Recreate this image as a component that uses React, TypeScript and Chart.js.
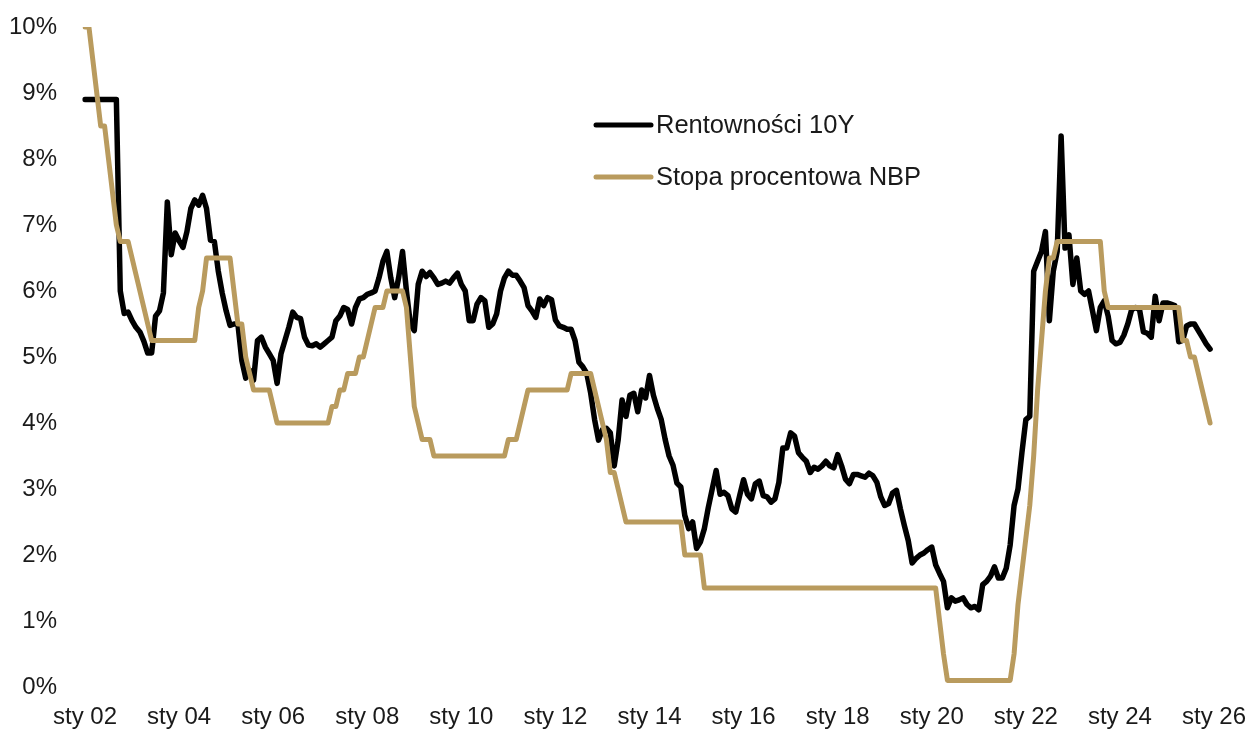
import { useEffect, useRef } from "react";
import { Chart, registerables } from "chart.js";

Chart.register(...registerables);

// Polish month abbreviations used for the monthly category axis
const MONTHS = ["sty", "lut", "mar", "kwi", "maj", "cze", "lip", "sie", "wrz", "paź", "lis", "gru"];
const FIRST_YEAR = 2002;
const LAST_YEAR = 2026; // axis runs to "sty 26"

// Tick labels shown on the x axis
const TICK_LABELS = [
  "sty 02", "sty 04", "sty 06", "sty 08", "sty 10", "sty 12", "sty 14",
  "sty 16", "sty 18", "sty 20", "sty 22", "sty 24", "sty 26",
];

const Y_TICKS = [0, 1, 2, 3, 4, 5, 6, 7, 8, 9, 10];

const SERIES_NAMES = ["Rentowności 10Y", "Stopa procentowa NBP"];

// Rentowności 10Y, monthly (%), Jan 2002 – Dec 2025
const yield10Y = [
  8.9, 8.9, 8.9, 8.9, 8.9, 8.9, 8.9, 8.9, 8.9, 6.0, 5.66, 5.68, // 2002
  5.55, 5.45, 5.38, 5.24, 5.06, 5.06, 5.62, 5.7, 5.97, 7.35, 6.55, 6.88, // 2003
  6.76, 6.66, 6.9, 7.25, 7.38, 7.3, 7.45, 7.25, 6.77, 6.75, 6.3, 5.97, // 2004
  5.7, 5.48, 5.5, 5.5, 4.95, 4.68, 4.8, 4.65, 5.25, 5.3, 5.15, 5.05, // 2005
  4.95, 4.6, 5.05, 5.25, 5.45, 5.68, 5.6, 5.58, 5.3, 5.18, 5.17, 5.2, // 2006
  5.15, 5.2, 5.25, 5.3, 5.55, 5.62, 5.75, 5.72, 5.5, 5.75, 5.88, 5.9, // 2007
  5.95, 5.97, 6.0, 6.2, 6.45, 6.6, 6.2, 5.9, 6.2, 6.6, 6.0, 5.5, // 2008
  5.4, 6.1, 6.3, 6.22, 6.28, 6.2, 6.1, 6.12, 6.15, 6.12, 6.2, 6.27, // 2009
  6.1, 6.0, 5.55, 5.55, 5.8, 5.9, 5.85, 5.45, 5.5, 5.65, 6.0, 6.2, // 2010
  6.3, 6.24, 6.24, 6.15, 6.05, 5.78, 5.7, 5.6, 5.88, 5.78, 5.9, 5.87, // 2011
  5.56, 5.47, 5.45, 5.42, 5.42, 5.25, 4.92, 4.85, 4.75, 4.45, 4.05, 3.74, // 2012
  3.9, 3.92, 3.85, 3.35, 3.74, 4.35, 4.1, 4.42, 4.45, 4.17, 4.5, 4.38, // 2013
  4.72, 4.42, 4.22, 4.05, 3.75, 3.5, 3.36, 3.09, 3.03, 2.6, 2.4, 2.5, // 2014
  2.1, 2.2, 2.4, 2.72, 3.0, 3.28, 2.92, 2.95, 2.9, 2.7, 2.65, 2.9, // 2015
  3.14, 2.92, 2.85, 3.08, 3.12, 2.9, 2.88, 2.8, 2.85, 3.1, 3.62, 3.62, // 2016
  3.85, 3.8, 3.55, 3.48, 3.42, 3.25, 3.33, 3.3, 3.35, 3.42, 3.35, 3.32, // 2017
  3.52, 3.35, 3.15, 3.08, 3.22, 3.22, 3.2, 3.18, 3.24, 3.2, 3.1, 2.88, // 2018
  2.75, 2.78, 2.94, 2.98, 2.7, 2.45, 2.22, 1.88, 1.95, 2.0, 2.03, 2.08, // 2019
  2.12, 1.85, 1.72, 1.6, 1.2, 1.35, 1.3, 1.32, 1.35, 1.25, 1.2, 1.22, // 2020
  1.17, 1.55, 1.6, 1.68, 1.82, 1.65, 1.65, 1.8, 2.15, 2.75, 3.0, 3.55, // 2021
  4.05, 4.1, 6.3, 6.45, 6.6, 6.9, 5.55, 6.3, 6.6, 8.35, 6.65, 6.85, // 2022
  6.1, 6.5, 6.0, 5.95, 6.0, 5.7, 5.4, 5.75, 5.85, 5.62, 5.25, 5.2, // 2023
  5.22, 5.33, 5.5, 5.72, 5.75, 5.72, 5.38, 5.36, 5.3, 5.92, 5.55, 5.82, // 2024
  5.82, 5.8, 5.78, 5.23, 5.25, 5.47, 5.5, 5.5, 5.4, 5.3, 5.2, 5.12, // 2025
];

// Stopa procentowa NBP, monthly (%), Jan 2002 – Dec 2025
const nbpRate = [
  10, 10, 9.5, 9.0, 8.5, 8.5, 8.0, 7.5, 7.0, 6.75, 6.75, 6.75, // 2002
  6.5, 6.25, 6.0, 5.75, 5.5, 5.25, 5.25, 5.25, 5.25, 5.25, 5.25, 5.25, // 2003
  5.25, 5.25, 5.25, 5.25, 5.25, 5.75, 6.0, 6.5, 6.5, 6.5, 6.5, 6.5, // 2004
  6.5, 6.5, 6.0, 5.5, 5.5, 5.0, 4.75, 4.5, 4.5, 4.5, 4.5, 4.5, // 2005
  4.25, 4.0, 4.0, 4.0, 4.0, 4.0, 4.0, 4.0, 4.0, 4.0, 4.0, 4.0, // 2006
  4.0, 4.0, 4.0, 4.25, 4.25, 4.5, 4.5, 4.75, 4.75, 4.75, 5.0, 5.0, // 2007
  5.25, 5.5, 5.75, 5.75, 5.75, 6.0, 6.0, 6.0, 6.0, 6.0, 5.75, 5.0, // 2008
  4.25, 4.0, 3.75, 3.75, 3.75, 3.5, 3.5, 3.5, 3.5, 3.5, 3.5, 3.5, // 2009
  3.5, 3.5, 3.5, 3.5, 3.5, 3.5, 3.5, 3.5, 3.5, 3.5, 3.5, 3.5, // 2010
  3.75, 3.75, 3.75, 4.0, 4.25, 4.5, 4.5, 4.5, 4.5, 4.5, 4.5, 4.5, // 2011
  4.5, 4.5, 4.5, 4.5, 4.75, 4.75, 4.75, 4.75, 4.75, 4.75, 4.5, 4.25, // 2012
  4.0, 3.75, 3.25, 3.25, 3.0, 2.75, 2.5, 2.5, 2.5, 2.5, 2.5, 2.5, // 2013
  2.5, 2.5, 2.5, 2.5, 2.5, 2.5, 2.5, 2.5, 2.5, 2.0, 2.0, 2.0, // 2014
  2.0, 2.0, 1.5, 1.5, 1.5, 1.5, 1.5, 1.5, 1.5, 1.5, 1.5, 1.5, // 2015
  1.5, 1.5, 1.5, 1.5, 1.5, 1.5, 1.5, 1.5, 1.5, 1.5, 1.5, 1.5, // 2016
  1.5, 1.5, 1.5, 1.5, 1.5, 1.5, 1.5, 1.5, 1.5, 1.5, 1.5, 1.5, // 2017
  1.5, 1.5, 1.5, 1.5, 1.5, 1.5, 1.5, 1.5, 1.5, 1.5, 1.5, 1.5, // 2018
  1.5, 1.5, 1.5, 1.5, 1.5, 1.5, 1.5, 1.5, 1.5, 1.5, 1.5, 1.5, // 2019
  1.5, 1.5, 1.0, 0.5, 0.1, 0.1, 0.1, 0.1, 0.1, 0.1, 0.1, 0.1, // 2020
  0.1, 0.1, 0.1, 0.1, 0.1, 0.1, 0.1, 0.1, 0.1, 0.5, 1.25, 1.75, // 2021
  2.25, 2.75, 3.5, 4.5, 5.25, 6.0, 6.5, 6.5, 6.75, 6.75, 6.75, 6.75, // 2022
  6.75, 6.75, 6.75, 6.75, 6.75, 6.75, 6.75, 6.75, 6.0, 5.75, 5.75, 5.75, // 2023
  5.75, 5.75, 5.75, 5.75, 5.75, 5.75, 5.75, 5.75, 5.75, 5.75, 5.75, 5.75, // 2024
  5.75, 5.75, 5.75, 5.75, 5.25, 5.25, 5.0, 5.0, 4.75, 4.5, 4.25, 4.0, // 2025
];

const categories: string[] = [];
for (let y = FIRST_YEAR; y <= LAST_YEAR; y++) {
  for (let m = 0; m < 12; m++) {
    if (y === LAST_YEAR && m > 0) break;
    categories.push(`${MONTHS[m]} ${String(y % 100).padStart(2, "0")}`);
  }
}

const FONT = "'Liberation Sans', Arial, Helvetica, sans-serif";
const TEXT_COLOR = "#1a1a1a";
const BLACK = "#000000";
const GOLD = "#B99B5E";

const inlineLegend = {
  id: "inlineLegend",
  afterDraw(chart: any) {
    const { ctx } = chart;
    const rows = [125, 177];
    ctx.save();
    chart.data.datasets.forEach((ds: any, i: number) => {
      const y = rows[i];
      ctx.beginPath();
      ctx.strokeStyle = ds.borderColor;
      ctx.lineWidth = 5;
      ctx.lineCap = "round";
      ctx.moveTo(596, y);
      ctx.lineTo(651, y);
      ctx.stroke();
      ctx.fillStyle = TEXT_COLOR;
      ctx.font = `25.5px ${FONT}`;
      ctx.textAlign = "left";
      ctx.textBaseline = "middle";
      ctx.fillText(ds.label, 656, y + 1);
    });
    ctx.restore();
  },
};

export default function App() {
  const canvasRef = useRef<HTMLCanvasElement | null>(null);

  useEffect(() => {
    if (!canvasRef.current) return;
    const chart = new Chart(canvasRef.current, {
      type: "line",
      data: {
        labels: categories,
        datasets: [
          {
            label: SERIES_NAMES[0],
            data: yield10Y,
            borderColor: BLACK,
            backgroundColor: BLACK,
            borderWidth: 5.5,
            pointRadius: 0,
            tension: 0,
            borderJoinStyle: "round",
            borderCapStyle: "round",
            order: 1,
          },
          {
            label: SERIES_NAMES[1],
            data: nbpRate,
            borderColor: GOLD,
            backgroundColor: GOLD,
            borderWidth: 5,
            pointRadius: 0,
            tension: 0,
            borderJoinStyle: "round",
            borderCapStyle: "round",
            order: 0,
          },
        ],
      },
      options: {
        animation: false,
        responsive: false,
        maintainAspectRatio: false,
        layout: { padding: { top: 27, right: 37, left: 0, bottom: 0 } },
        plugins: {
          legend: { display: false },
          tooltip: { enabled: false },
        },
        scales: {
          x: {
            type: "category",
            grid: { display: false, drawTicks: false },
            border: { display: false },
            ticks: {
              autoSkip: false,
              maxRotation: 0,
              minRotation: 0,
              padding: 16,
              color: TEXT_COLOR,
              font: { family: FONT, size: 24 },
              callback: (_v: any, i: number) =>
                TICK_LABELS.includes(categories[i]) ? categories[i] : "",
            },
            afterFit: (s: any) => {
              s.height = 42;
              s.paddingLeft = 0;
              s.paddingRight = 0;
              s.paddingTop = 0;
              s.paddingBottom = 0;
            },
          },
          y: {
            min: Y_TICKS[0],
            max: Y_TICKS[Y_TICKS.length - 1],
            grid: { display: false, drawTicks: false },
            border: { display: false },
            ticks: {
              stepSize: 1,
              padding: 28,
              color: TEXT_COLOR,
              font: { family: FONT, size: 24 },
              callback: (v: any) => `${v}%`,
            },
            afterFit: (s: any) => {
              s.width = 85;
              s.paddingLeft = 0;
              s.paddingRight = 0;
              s.paddingTop = 0;
              s.paddingBottom = 0;
            },
          },
        },
      },
      plugins: [inlineLegend],
    });
    return () => chart.destroy();
  }, []);

  return (
    <div style={{ position: "fixed", left: 0, top: 0, width: 1251, height: 729, background: "#fff" }}>
      <canvas ref={canvasRef} width={1251} height={729} style={{ display: "block" }} />
    </div>
  );
}
